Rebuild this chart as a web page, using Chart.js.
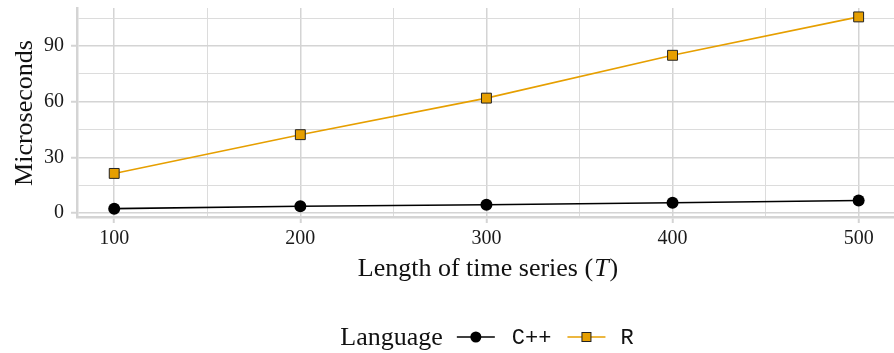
<!DOCTYPE html>
<html>
<head>
<meta charset="utf-8">
<script src="https://cdn.jsdelivr.net/npm/chart.js@4"></script>
<style>
  html, body { margin: 0; padding: 0; background: #fff; }
  #wrap { width: 894px; height: 353px; position: relative; }
</style>
</head>
<body>
<div id="wrap"><canvas id="chart"></canvas></div>
<script>
// Datos
const longitudes = [100, 200, 300, 400, 500];
const tiemposCpp = [2.3, 3.6, 4.4, 5.5, 6.7];
const tiemposR = [21.3, 42.2, 61.9, 85.0, 105.7];
const ticksY = [0, 15, 30, 45, 60, 75, 90, 105];
const ticksX = [100, 150, 200, 250, 300, 350, 400, 450, 500];
const lenguajes = ['C++', 'R'];

const SERIF = "'Liberation Serif', 'DejaVu Serif', serif";
const MONO = "'Liberation Mono', 'DejaVu Sans Mono', monospace";
const NARANJA = '#E69F00';

const esMayorY = v => v % 30 === 0;
const esMayorX = v => v % 100 === 0;

// Titulos de ejes y leyenda dibujados a mano
const decoracion = {
    id: 'decoracion',
    afterDraw(chart) {
        const ctx = chart.ctx;
        ctx.save();
        ctx.fillStyle = '#111';

        // titulo eje Y
        ctx.font = '26px ' + SERIF;
        ctx.translate(25, 113);
        ctx.rotate(-Math.PI / 2);
        ctx.textAlign = 'center';
        ctx.textBaseline = 'middle';
        ctx.fillText('Microseconds', 0, 0);
        ctx.setTransform(1, 0, 0, 1, 0, 0);

        // titulo eje X con T en cursiva
        const p1 = 'Length of time series (', p2 = 'T', p3 = ')';
        ctx.font = '26px ' + SERIF;
        const w1 = ctx.measureText(p1).width, w3 = ctx.measureText(p3).width;
        ctx.font = 'italic 26px ' + SERIF;
        const w2 = ctx.measureText(p2).width + 2;
        let x = 488 - (w1 + w2 + w3) / 2;
        const yb = 276;
        ctx.textAlign = 'left';
        ctx.textBaseline = 'alphabetic';
        ctx.font = '26px ' + SERIF;
        ctx.fillText(p1, x, yb);
        ctx.font = 'italic 26px ' + SERIF;
        ctx.fillText(p2, x + w1 + 1, yb);
        ctx.font = '26px ' + SERIF;
        ctx.fillText(p3, x + w1 + w2, yb);

        // leyenda
        const ly = 337;
        ctx.font = '26px ' + SERIF;
        const wTit = ctx.measureText('Language').width;
        ctx.font = '22px ' + MONO;
        const wLab = lenguajes.map(l => ctx.measureText(l).width);
        const total = wTit + 14 + (38 + 17 + wLab[0]) + 16 + (38 + 15 + wLab[1]);
        x = 487 - total / 2;
        ctx.font = '26px ' + SERIF;
        ctx.textBaseline = 'middle';
        ctx.fillText('Language', x, ly + 1);
        x += wTit + 14;
        chart.data.datasets.forEach((ds, i) => {
            ctx.strokeStyle = ds.borderColor;
            ctx.lineWidth = 1.6;
            ctx.beginPath();
            ctx.moveTo(x, ly);
            ctx.lineTo(x + 38, ly);
            ctx.stroke();
            ctx.fillStyle = ds.pointBackgroundColor;
            ctx.strokeStyle = ds.pointBorderColor;
            ctx.lineWidth = 1;
            if (ds.pointStyle === 'rect') {
                ctx.fillRect(x + 14.5, ly - 4.5, 9, 9);
                ctx.strokeRect(x + 14.5, ly - 4.5, 9, 9);
            } else {
                ctx.beginPath();
                ctx.arc(x + 19, ly, 5.5, 0, Math.PI * 2);
                ctx.fill();
            }
            x += 38 + (i === 0 ? 17 : 15);
            ctx.fillStyle = '#111';
            ctx.font = '22px ' + MONO;
            ctx.fillText(lenguajes[i], x, ly + 1);
            x += wLab[i] + 16;
        });
        ctx.restore();
    }
};

const ctx = document.getElementById('chart').getContext('2d');
new Chart(ctx, {
    type: 'line',
    data: {
        datasets: [
            {
                label: lenguajes[0],
                data: longitudes.map((t, i) => ({ x: t, y: tiemposCpp[i] })),
                borderColor: '#000',
                borderWidth: 1.6,
                pointStyle: 'circle',
                pointRadius: 6,
                pointBackgroundColor: '#000',
                pointBorderColor: '#000',
                pointBorderWidth: 0,
                tension: 0,
                clip: false
            },
            {
                label: lenguajes[1],
                data: longitudes.map((t, i) => ({ x: t, y: tiemposR[i] })),
                borderColor: NARANJA,
                borderWidth: 1.6,
                pointStyle: 'rect',
                pointRadius: 7,
                pointBackgroundColor: NARANJA,
                pointBorderColor: '#222',
                pointBorderWidth: 1,
                tension: 0,
                clip: false
            }
        ]
    },
    options: {
        responsive: true,
        maintainAspectRatio: false,
        animation: false,
        layout: { autoPadding: false, padding: { top: 8, right: 0, left: 0, bottom: 0 } },
        plugins: {
            legend: { display: false },
            tooltip: { enabled: false }
        },
        scales: {
            x: {
                type: 'linear',
                min: 80,
                max: 519,
                afterBuildTicks: axis => { axis.ticks = ticksX.map(v => ({ value: v })); },
                afterFit: s => { s.height = 136; s.paddingLeft = 0; s.paddingRight = 0; },
                grid: {
                    color: c => esMayorX(c.tick.value) ? '#d4d4d4' : '#dcdcdc',
                    lineWidth: c => esMayorX(c.tick.value) ? 1.5 : 1,
                    tickColor: c => esMayorX(c.tick.value) ? '#d4d4d4' : 'rgba(0,0,0,0)',
                    tickLength: 6,
                    tickWidth: 2
                },
                border: { color: '#d4d4d4', width: 2.5 },
                ticks: {
                    autoSkip: false,
                    maxRotation: 0,
                    padding: 4,
                    color: '#1a1a1a',
                    font: { family: SERIF, size: 20 },
                    callback: v => esMayorX(v) ? v : ''
                }
            },
            y: {
                type: 'linear',
                min: -2.2,
                max: 110.5,
                afterBuildTicks: axis => { axis.ticks = ticksY.map(v => ({ value: v })); },
                afterFit: s => { s.width = 77; s.paddingTop = 0; s.paddingBottom = 0; },
                grid: {
                    color: c => esMayorY(c.tick.value) ? '#d4d4d4' : '#dcdcdc',
                    lineWidth: c => esMayorY(c.tick.value) ? 1.5 : 1,
                    tickColor: c => esMayorY(c.tick.value) ? '#d4d4d4' : 'rgba(0,0,0,0)',
                    tickLength: 6,
                    tickWidth: 2
                },
                border: { color: '#d4d4d4', width: 2.5 },
                ticks: {
                    autoSkip: false,
                    padding: 7,
                    color: '#1a1a1a',
                    font: { family: SERIF, size: 20 },
                    callback: v => esMayorY(v) ? v : ''
                }
            }
        }
    },
    plugins: [decoracion]
});
</script>
</body>
</html>
